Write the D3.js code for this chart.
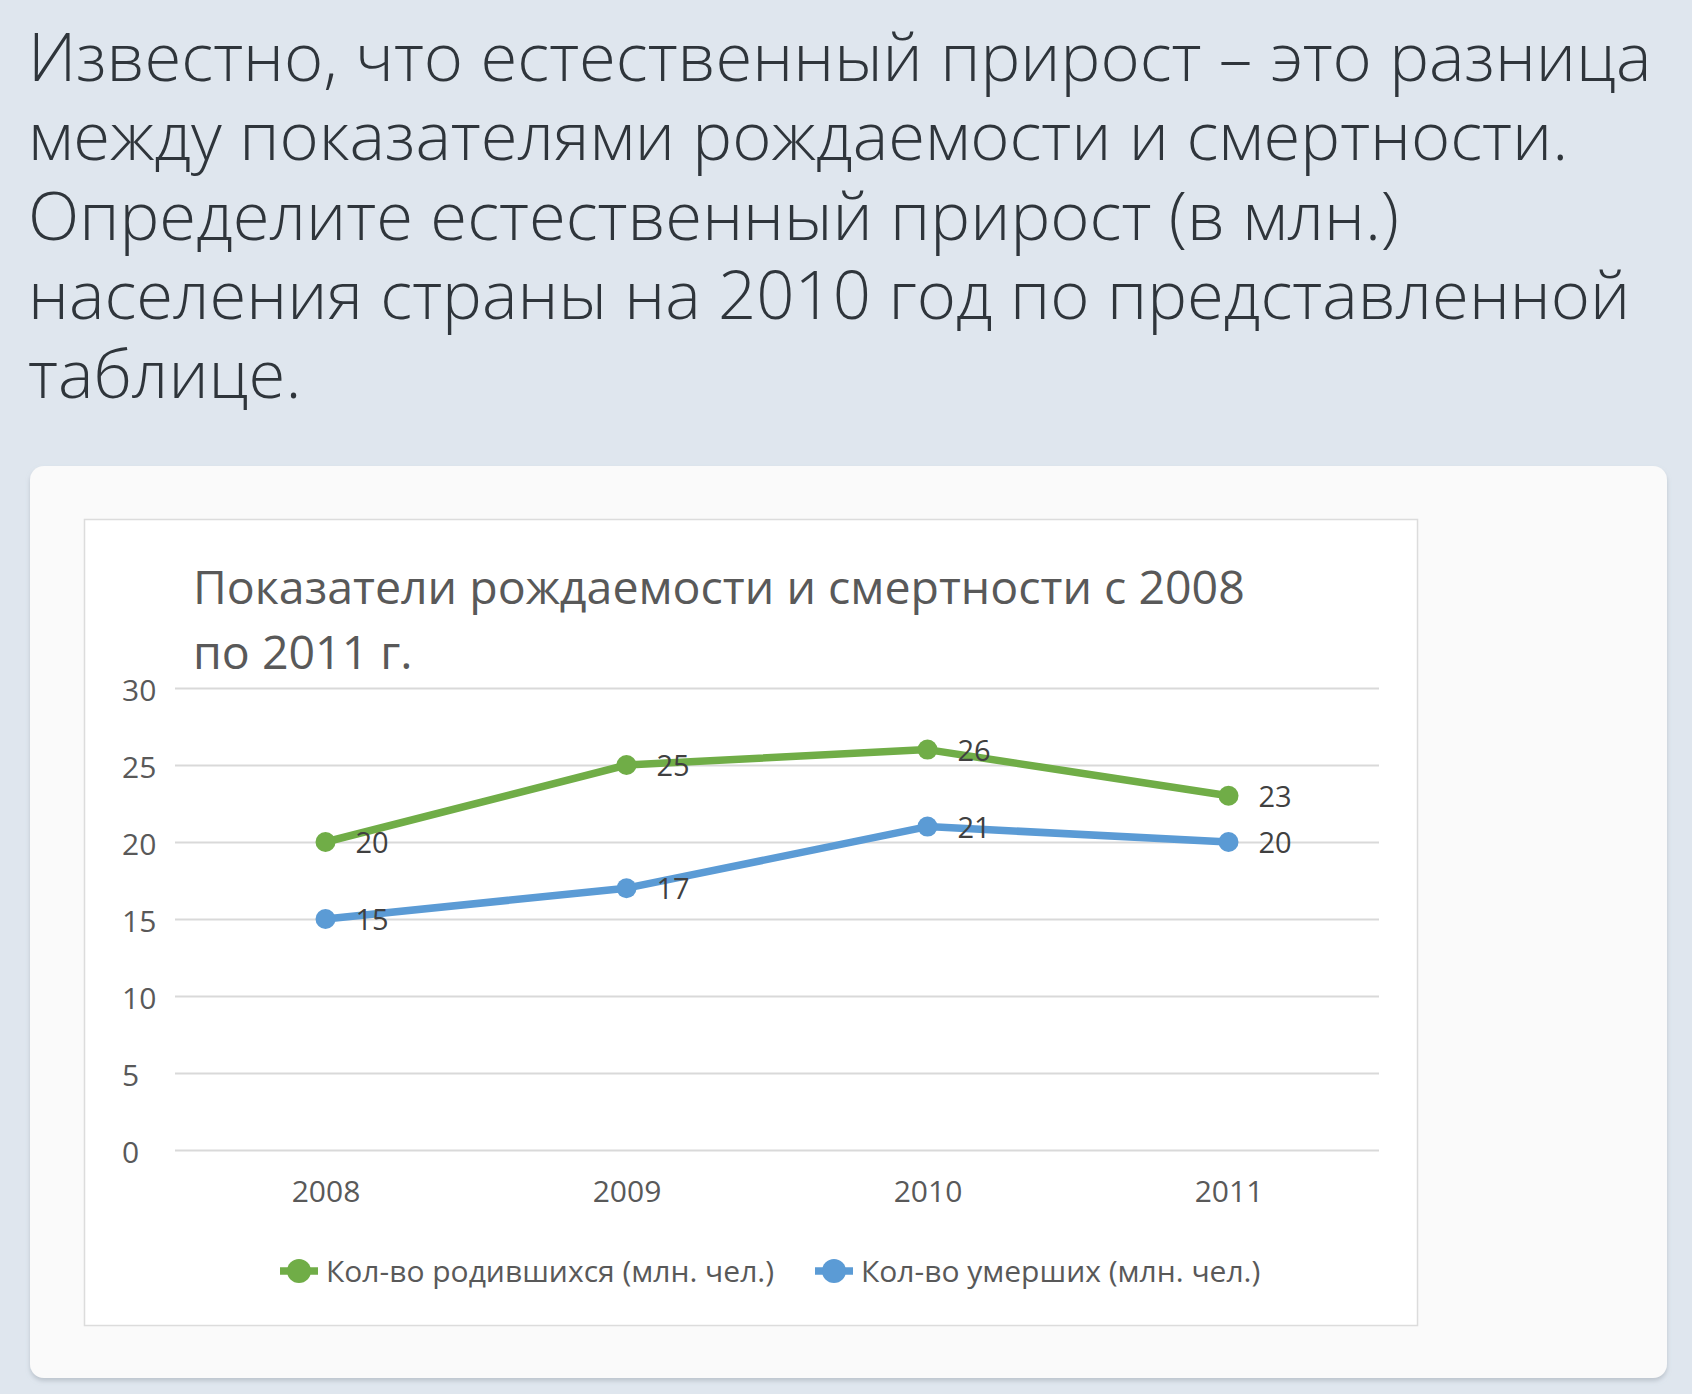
<!DOCTYPE html>
<html>
<head>
<meta charset="utf-8">
<script src="https://cdn.jsdelivr.net/npm/d3@7"></script>
<style>
  html, body { margin: 0; padding: 0; background: #dfe6ee; }
  svg { display: block; }
</style>
</head>
<body>
<div id="chart"></div>
<script>
const questionLines = [
  "Известно, что естественный прирост – это разница",
  "между показателями рождаемости и смертности.",
  "Определите естественный прирост (в млн.)",
  "населения страны на 2010 год по представленной",
  "таблице."
];
const titleLines = ["Показатели рождаемости и смертности с 2008", "по 2011 г."];
const years = ["2008", "2009", "2010", "2011"];
const births = [20, 25, 26, 23];
const deaths = [15, 17, 21, 20];
const yTicks = [0, 5, 10, 15, 20, 25, 30];
const seriesNames = ["Кол-во родившихся (млн. чел.)", "Кол-во умерших (млн. чел.)"];
const seriesColors = ["#70ad47", "#5b9bd5"];

const width = 1692, height = 1394;
const font = "'Open Sans', sans-serif";

const svg = d3.select("#chart").append("svg")
  .attr("width", width)
  .attr("height", height);

// question text, one block with a line per tspan
svg.append("text")
  .attr("font-family", font)
  .attr("font-weight", 300)
  .attr("font-size", 67)
  .attr("fill", "#2f353b")
  .selectAll("tspan")
  .data(questionLines)
  .enter()
  .append("tspan")
  .attr("x", 28)
  .attr("y", (d, i) => 81 + i * 79.3)
  .text(d => d);

// card
const defs = svg.append("defs");
const shadow = defs.append("filter").attr("id", "shadow")
  .attr("x", "-5%").attr("y", "-5%").attr("width", "110%").attr("height", "112%");
shadow.append("feDropShadow")
  .attr("dx", 0).attr("dy", 3).attr("stdDeviation", 2)
  .attr("flood-color", "#9aa3ad").attr("flood-opacity", 0.5);

svg.append("rect")
  .attr("x", 30).attr("y", 466)
  .attr("width", 1637).attr("height", 912)
  .attr("rx", 14)
  .attr("fill", "#fafafa")
  .attr("filter", "url(#shadow)");

svg.append("rect")
  .attr("x", 84.5).attr("y", 519.5)
  .attr("width", 1333).attr("height", 806)
  .attr("fill", "#ffffff")
  .attr("stroke", "#dcdcdc")
  .attr("stroke-width", 1.5);

// chart title
svg.append("text")
  .attr("font-family", font)
  .attr("font-size", 46.5)
  .attr("fill", "#595959")
  .selectAll("tspan")
  .data(titleLines)
  .enter()
  .append("tspan")
  .attr("x", 193)
  .attr("y", (d, i) => 604 + i * 65)
  .text(d => d);

// scales
const x = d3.scalePoint()
  .domain(years)
  .range([175, 1379])
  .padding(0.5);

const y = d3.scaleLinear()
  .domain([0, 30])
  .range([1150, 688]);

// gridlines + y labels (left-aligned, like the source)
const yAxis = d3.axisLeft(y)
  .tickValues(yTicks)
  .tickSize(-(1379 - 175))
  .tickPadding(0);

const gy = svg.append("g")
  .attr("transform", "translate(175,0)")
  .call(yAxis);
gy.select(".domain").remove();
gy.selectAll(".tick line")
  .attr("stroke", "#d9d9d9")
  .attr("stroke-width", 2);
gy.selectAll(".tick text")
  .attr("x", 122 - 175)
  .attr("text-anchor", "start")
  .attr("font-family", font)
  .attr("font-size", 30)
  .attr("fill", "#595959")
  .attr("dy", "0.35em")
  .attr("transform", "translate(0,2)");

// x labels
const xAxis = d3.axisBottom(x)
  .tickSize(0)
  .tickPadding(0);
const gx = svg.append("g")
  .attr("transform", "translate(0,1191)")
  .call(xAxis);
gx.select(".domain").remove();
gx.selectAll(".tick text")
  .attr("font-family", font)
  .attr("font-size", 30)
  .attr("fill", "#595959")
  .attr("dy", "0.35em");

// series
const series = [births, deaths].map((values, i) => ({
  name: seriesNames[i],
  color: seriesColors[i],
  points: values.map((v, j) => ({ year: years[j], value: v }))
}));

const line = d3.line()
  .x(d => x(d.year))
  .y(d => y(d.value));

const sg = svg.selectAll(".series")
  .data(series)
  .enter()
  .append("g")
  .attr("class", "series");

sg.append("path")
  .attr("d", d => line(d.points))
  .attr("fill", "none")
  .attr("stroke", d => d.color)
  .attr("stroke-width", 7.5)
  .attr("stroke-linejoin", "round")
  .attr("stroke-linecap", "round");

sg.selectAll("circle")
  .data(d => d.points.map(p => ({ ...p, color: d.color })))
  .enter()
  .append("circle")
  .attr("cx", d => x(d.year))
  .attr("cy", d => y(d.value))
  .attr("r", 10)
  .attr("fill", d => d.color);

sg.selectAll(".label")
  .data(d => d.points)
  .enter()
  .append("text")
  .attr("class", "label")
  .attr("x", d => x(d.year) + 30)
  .attr("y", d => y(d.value) + 1)
  .attr("dy", "0.35em")
  .attr("font-family", font)
  .attr("font-size", 29)
  .attr("fill", "#404040")
  .text(d => d.value);

// legend
const legendPos = [299, 834];
const lg = svg.selectAll(".legend")
  .data(series)
  .enter()
  .append("g")
  .attr("class", "legend")
  .attr("transform", (d, i) => `translate(${legendPos[i]},1271)`);

lg.append("line")
  .attr("x1", -19).attr("x2", 19)
  .attr("stroke", d => d.color)
  .attr("stroke-width", 7.5);
lg.append("circle")
  .attr("r", 12)
  .attr("fill", d => d.color);
lg.append("text")
  .attr("x", 27)
  .attr("dy", "0.35em")
  .attr("font-family", font)
  .attr("font-size", 30)
  .attr("fill", "#595959")
  .text(d => d.name);
</script>
</body>
</html>
